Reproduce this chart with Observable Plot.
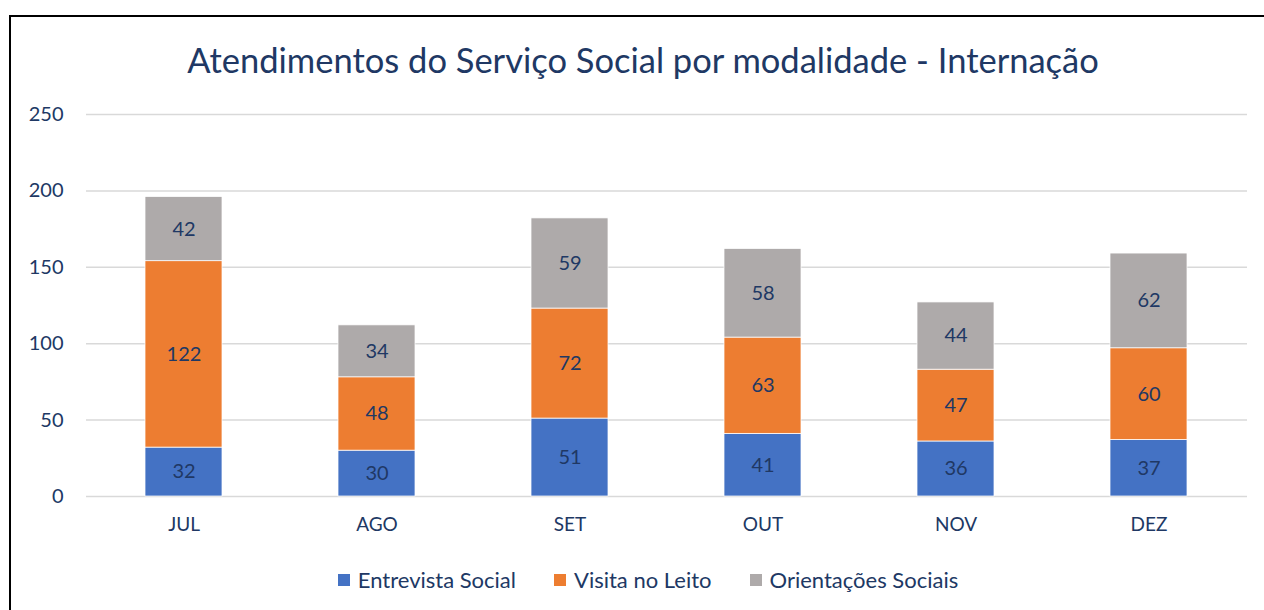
<!DOCTYPE html>
<html>
<head>
<meta charset="utf-8">
<script src="https://cdn.jsdelivr.net/npm/d3@7"></script>
<script src="https://cdn.jsdelivr.net/npm/@observablehq/plot@0.6"></script>
<style>
  html, body { margin: 0; padding: 0; background: #fff; }
  body { width: 1264px; height: 610px; overflow: hidden; position: relative; font-family: Lato, "Open Sans", sans-serif; color: #203864; }
  #frame { position: absolute; left: 9px; top: 15px; width: 1300px; height: 700px; border-left: 2px solid #000; border-top: 2px solid #000; pointer-events: none; }
  #title { height: 100px; box-sizing: border-box; padding-top: 40px; text-align: center; font-size: 34.5px; line-height: 40px; color: #203864; padding-left: 22px; }
  #chart { height: 440px; }
  #legend { height: 70px; display: flex; justify-content: center; align-items: flex-start; padding-top: 26px; box-sizing: border-box; font-size: 22px; gap: 38px; padding-left: 32px; }
  .item { display: flex; align-items: center; }
  .sw { width: 12px; height: 12px; margin-right: 8px; }
</style>
</head>
<body>
<div id="frame"></div>
<div id="title">Atendimentos do Serviço Social por modalidade - Internação</div>
<div id="chart"></div>
<div id="legend"></div>
<script>
const months = ["JUL", "AGO", "SET", "OUT", "NOV", "DEZ"];
const seriesNames = ["Entrevista Social", "Visita no Leito", "Orientações Sociais"];
const seriesColors = ["#4472C4", "#ED7D31", "#AEAAAA"];
const entrevista = [32, 30, 51, 41, 36, 37];
const visita = [122, 48, 72, 63, 47, 60];
const orientacoes = [42, 34, 59, 58, 44, 62];
const yTicks = [0, 50, 100, 150, 200, 250];

const seriesValues = [entrevista, visita, orientacoes];
const data = [];
months.forEach((m, i) => {
  seriesNames.forEach((s, j) => data.push({ month: m, series: s, value: seriesValues[j][i] }));
});

const textColor = "#203864";
const plot = Plot.plot({
  width: 1264,
  height: 440,
  marginTop: 14,
  marginBottom: 44,
  marginLeft: 86,
  marginRight: 17,
  style: { fontFamily: "Lato, 'Open Sans', sans-serif", color: textColor, background: "transparent" },
  x: { domain: months, paddingInner: 0.6, paddingOuter: 0.3, label: null },
  y: { domain: [0, 250], label: null },
  color: { domain: seriesNames, range: seriesColors },
  marks: [
    Plot.ruleY(yTicks, { stroke: "#D9D9D9", strokeWidth: 1.5 }),
    Plot.barY(data, Plot.stackY({ x: "month", y: "value", fill: "series", order: seriesNames, stroke: "white", strokeWidth: 0.75 })),
    Plot.text(data, Plot.stackY({ x: "month", y: "value", z: "series", order: seriesNames, text: "value", fill: textColor, fontSize: 20 })),
    Plot.axisY({ ticks: yTicks, tickSize: 0, tickPadding: 23, fontSize: 20, label: null }),
    Plot.axisX({ tickSize: 0, tickPadding: 21, fontSize: 19, label: null })
  ]
});
document.getElementById("chart").appendChild(plot);

const legend = document.getElementById("legend");
seriesNames.forEach((s, j) => {
  const it = document.createElement("div");
  it.className = "item";
  const sw = document.createElement("div");
  sw.className = "sw";
  sw.style.background = seriesColors[j];
  const lb = document.createElement("span");
  lb.textContent = s;
  it.appendChild(sw);
  it.appendChild(lb);
  legend.appendChild(it);
});
</script>
</body>
</html>
